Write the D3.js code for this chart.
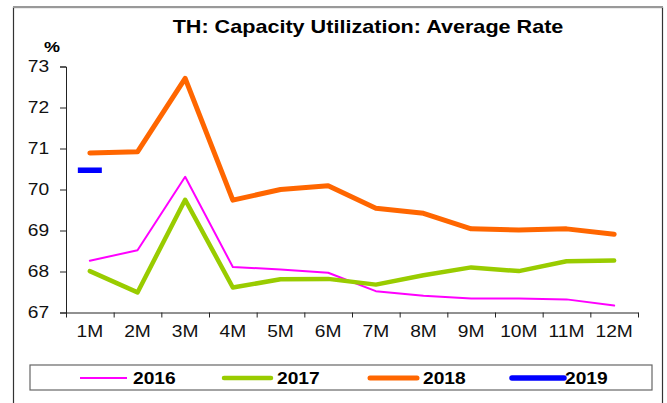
<!DOCTYPE html>
<html>
<head>
<meta charset="utf-8">
<script src="https://cdn.jsdelivr.net/npm/d3@7"></script>
<style>
  body { margin: 0; background: #fff; }
  svg { display: block; font-family: "Liberation Sans", Arial, sans-serif; }
</style>
</head>
<body>
<svg id="chart" width="667" height="403"></svg>
<script>
const months = ['1M', '2M', '3M', '4M', '5M', '6M', '7M', '8M', '9M', '10M', '11M', '12M'];
const yTicks = [67, 68, 69, 70, 71, 72, 73];

const y2016 = [68.26, 68.52, 70.31, 68.11, 68.05, 67.97, 67.52, 67.41, 67.34, 67.34, 67.32, 67.17];
const y2017 = [68.01, 67.49, 69.75, 67.61, 67.81, 67.82, 67.68, 67.91, 68.10, 68.01, 68.25, 68.27];
const y2018 = [70.89, 70.92, 72.71, 69.74, 70.00, 70.09, 69.54, 69.42, 69.04, 69.01, 69.04, 68.91];
const y2019 = [70.47];

const series = [
    { name: '2016', values: y2016, color: '#ff00ff', width: 2 },
    { name: '2017', values: y2017, color: '#99cc00', width: 4.5 },
    { name: '2018', values: y2018, color: '#ff6600', width: 5 },
    { name: '2019', values: y2019, color: '#0000ff', width: 5.5 }
];

// the source picture is a bit wider than tall, so stretch text horizontally
const SX = 1.2;

const svg = d3.select('#chart');

function stretchedText(parent, x, y, str) {
    return parent.append('text')
        .attr('transform', `translate(${x},${y}) scale(${SX},1)`)
        .text(str);
}

// outer frame
svg.append('rect')
    .attr('x', 13.5).attr('y', 7.5)
    .attr('width', 649).attr('height', 420)
    .attr('fill', '#fff')
    .attr('stroke', '#333')
    .attr('stroke-width', 1.2);
svg.append('line')
    .attr('x1', 13).attr('x2', 663).attr('y1', 7).attr('y2', 7)
    .attr('stroke', '#999').attr('stroke-width', 2);

// title
stretchedText(svg, 368, 33, 'TH: Capacity Utilization: Average Rate')
    .attr('text-anchor', 'middle')
    .attr('font-size', '18px')
    .attr('font-weight', 'bold');

stretchedText(svg, 44, 52, '%')
    .attr('font-size', '15px')
    .attr('font-weight', 'bold');

const x = d3.scaleLinear().domain([0, months.length]).range([66, 638]);
const y = d3.scaleLinear().domain([67, 73]).range([312.5, 66.5]);

// y axis
const yAxis = svg.append('g')
    .attr('transform', 'translate(66,0)')
    .call(d3.axisLeft(y).tickValues(yTicks).tickSize(6).tickPadding(8).tickFormat(d3.format('d')));
yAxis.select('.domain').attr('stroke', '#222');
yAxis.selectAll('.tick line').attr('stroke', '#222');
yAxis.selectAll('text')
    .attr('transform', `scale(${SX},1)`)
    .attr('font-size', '16px')
    .attr('font-family', '"Liberation Sans", Arial, sans-serif')
    .attr('fill', '#111');

// x axis
const xAxis = svg.append('g')
    .attr('transform', `translate(0,${y(67)})`)
    .call(d3.axisBottom(x).tickValues(d3.range(months.length + 1)).tickSize(5).tickSizeOuter(0).tickFormat(''));
xAxis.select('.domain').attr('stroke', '#222');
xAxis.selectAll('.tick line').attr('stroke', '#222');

const xLabels = svg.append('g');
months.forEach((m, i) => {
    stretchedText(xLabels, x(i + 0.5), 337, m)
        .attr('text-anchor', 'middle')
        .attr('font-size', '16px')
        .attr('fill', '#111');
});

// lines
const line = d3.line()
    .x((d, i) => x(i + 0.5))
    .y(d => y(d));

series.slice(0, 3).forEach(s => {
    svg.append('path')
        .datum(s.values)
        .attr('fill', 'none')
        .attr('stroke', s.color)
        .attr('stroke-width', s.width)
        .attr('stroke-linejoin', 'round')
        .attr('stroke-linecap', 'round')
        .attr('d', line);
});

// 2019 only has one month: draw it as a short dash marker
const s19 = series[3];
svg.append('g').selectAll('line')
    .data(s19.values)
    .enter()
    .append('line')
    .attr('x1', (d, i) => x(i + 0.5) - 12)
    .attr('x2', (d, i) => x(i + 0.5) + 12)
    .attr('y1', d => y(d))
    .attr('y2', d => y(d))
    .attr('stroke', s19.color)
    .attr('stroke-width', s19.width);

// legend
svg.append('rect')
    .attr('x', 30).attr('y', 365)
    .attr('width', 622).attr('height', 25)
    .attr('fill', '#fff')
    .attr('stroke', '#666')
    .attr('stroke-width', 1.2);

const legendX = [80, 224, 370, 512];
series.forEach((s, i) => {
    const g = svg.append('g').attr('transform', `translate(${legendX[i]},378)`);
    g.append('line')
        .attr('x1', 0).attr('x2', i === 3 ? 52 : 47)
        .attr('y1', 0).attr('y2', 0)
        .attr('stroke', s.color)
        .attr('stroke-width', s.width)
        .attr('stroke-linecap', i === 0 ? 'butt' : 'round');
    stretchedText(g, i === 3 ? 53 : 53, 6, s.name)
        .attr('font-size', '16px')
        .attr('font-weight', 'bold');
});
</script>
</body>
</html>
